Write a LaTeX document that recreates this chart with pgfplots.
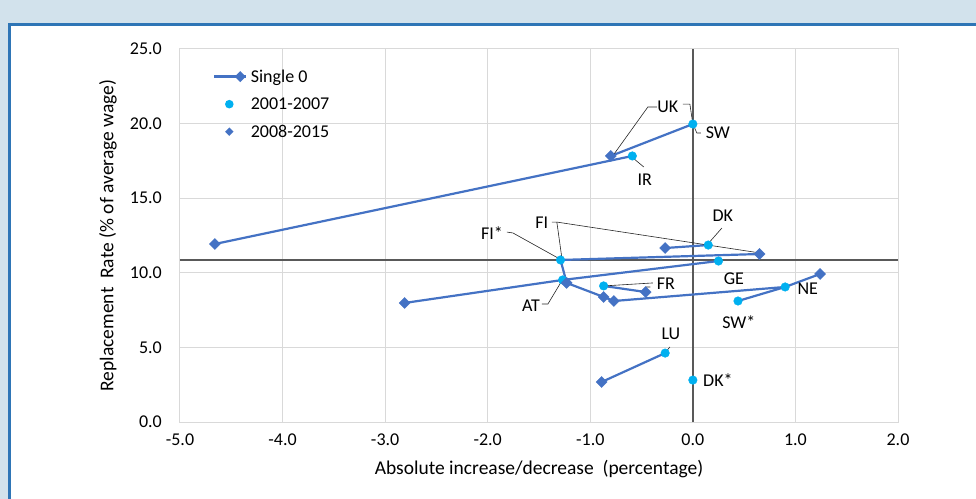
\documentclass[border=0pt]{standalone}
\usepackage{fontspec}
\setmainfont{Carlito}
\usepackage{pgfplots}
\pgfplotsset{compat=1.18}
\definecolor{lineblue}{RGB}{68,114,196}
\definecolor{circblue}{RGB}{0,176,240}
\definecolor{gridgray}{RGB}{217,217,217}
\definecolor{zerogray}{RGB}{89,89,89}
\definecolor{bgblue}{RGB}{210,226,236}
\definecolor{frameblue}{RGB}{46,117,182}
\newcommand{\lbl}{\fontsize{18bp}{21bp}\selectfont}
\newcommand{\ttl}{\fontsize{19.5bp}{23bp}\selectfont}
\begin{document}
\begin{tikzpicture}
\path[use as bounding box] (-180bp,-77bp) rectangle (796bp,422bp);
\fill[bgblue] (-180bp,-77bp) rectangle (796bp,422bp);
\filldraw[fill=white, draw=frameblue, line width=3bp] (-170.5bp,-90bp) rectangle (810bp,397.5bp);
\begin{axis}[
  at={(0,0)}, anchor=south west, scale only axis,
  width=718bp, height=373bp,
  xmin=-5, xmax=2, ymin=0, ymax=25,
  clip=false,
  xtick={-5,-4,-3,-2,-1,0,1,2},
  xticklabels={-5.0,-4.0,-3.0,-2.0,-1.0,0.0,1.0,2.0},
  ytick={0,5,10,15,20,25},
  yticklabels={0.0,5.0,10.0,15.0,20.0,25.0},
  grid=major, grid style={gridgray, line width=1bp},
  axis line style={gridgray, line width=1bp},
  major tick length=0pt,
  tick label style={font=\lbl, inner sep=0pt},
  xticklabel style={anchor=center, yshift=-18bp},
  yticklabel style={anchor=east, xshift=-18bp},
  xlabel={Absolute increase/decrease\ \ (percentage)},
  ylabel={Replacement\ \ Rate (\% of average wage)},
  every axis x label/.style={at={(axis description cs:0.5,-0.126)}, anchor=center, font=\ttl},
  every axis y label/.style={at={(axis description cs:-0.1003,0.5)}, anchor=center, rotate=90, font=\ttl},
  legend style={draw=none, fill=none, at={(axis description cs:0.046,0.952)}, anchor=north west,
    font=\lbl, row sep=9bp, inner sep=0pt, nodes={inner sep=2.5bp}},
  legend cell align=left,
]
% legend entry for the line series
\addlegendimage{legend image code/.code={
  \draw[lineblue, line width=2.2bp] (0bp,0bp) -- (32bp,0bp);
  \fill[lineblue, draw=none, rotate around={45:(26bp,0bp)}] (22.1bp,-3.9bp) rectangle (29.9bp,3.9bp);
  \path[draw=none, fill=none] (0bp,-4bp) rectangle (34bp,4bp);}}
\addlegendentry{Single 0}

% zero reference lines
\addplot[zerogray, line width=2.5bp, forget plot] coordinates {(0,0) (0,25)};
\addplot[zerogray, line width=2.5bp, forget plot] coordinates {(-5,10.86) (2,10.86)};

% connecting line (Single 0)
\addplot[lineblue, line width=2.2bp, forget plot] coordinates {(-4.66,11.93) (-0.59,17.83)};
\addplot[lineblue, line width=2.2bp, forget plot] coordinates {(-0.80,17.83) (0.00,19.97)};
\addplot[lineblue, line width=2.2bp, forget plot] coordinates {(-0.27,11.66) (0.15,11.86)};
\addplot[lineblue, line width=2.2bp, forget plot] coordinates {(0.65,11.26) (-1.29,10.86) (-1.23,9.32) (-0.87,8.38) (-0.77,8.11) (0.90,9.05) (1.24,9.92)};
\addplot[lineblue, line width=2.2bp, forget plot] coordinates {(0.90,9.05) (0.44,8.11)};
\addplot[lineblue, line width=2.2bp, forget plot] coordinates {(-0.87,9.12) (-0.46,8.71)};
\addplot[lineblue, line width=2.2bp, forget plot] coordinates {(-2.81,7.98) (-1.27,9.52) (0.25,10.79)};
\addplot[lineblue, line width=2.2bp, forget plot] coordinates {(-0.89,2.68) (-0.27,4.62)};

% leader lines
\addplot[black!85, line width=0.6bp, forget plot] coordinates {(-0.351,21.11) (-0.439,21.11) (-0.789,17.76)};
\addplot[black!85, line width=0.6bp, forget plot] coordinates {(-0.097,21.31) (-0.029,21.31) (0,19.97)};
\addplot[black!85, line width=0.6bp, forget plot] coordinates {(0,19.97) (0.039,19.37) (0.078,19.37)};
\addplot[black!85, line width=0.6bp, forget plot] coordinates {(-0.478,17.09) (-0.595,17.76)};
\addplot[black!85, line width=0.6bp, forget plot] coordinates {(0.283,13.0) (0.146,11.93)};
\addplot[black!85, line width=0.6bp, forget plot] coordinates {(-1.374,13.40) (-1.326,13.40) (-1.277,10.99)};
\addplot[black!85, line width=0.6bp, forget plot] coordinates {(-1.326,13.40) (0.653,11.33)};
\addplot[black!85, line width=0.6bp, forget plot] coordinates {(-1.813,12.73) (-1.754,12.67) (-1.296,10.92)};
\addplot[black!85, line width=0.6bp, forget plot] coordinates {(-1.472,7.91) (-1.413,7.91) (-1.267,9.58)};
\addplot[black!85, line width=0.6bp, forget plot] coordinates {(-0.39,9.32) (-0.867,9.12)};
\addplot[black!85, line width=0.6bp, forget plot] coordinates {(-0.46,8.71) (-0.455,9.05) (-0.415,9.05)};
\addplot[black!85, line width=0.6bp, forget plot] coordinates {(-0.224,5.03) (-0.273,4.62)};

% 2001-2007
\addplot[only marks, mark=*, mark size=4.3bp, mark options={draw=circblue, fill=circblue},
  legend image code/.code={
   \fill[circblue, draw=none] (15bp,0bp) circle (4.3bp);
   \path[draw=none, fill=none] (0bp,-4bp) rectangle (34bp,4bp);}] coordinates {
(-0.59,17.83) (0.00,19.97) (0.15,11.86) (-1.29,10.86) (0.25,10.79) (-1.27,9.52)
(-0.87,9.12) (0.90,9.05) (0.44,8.11) (-0.27,4.62) (0.00,2.81)};
\addlegendentry{2001-2007}

% 2008-2015
\addplot[only marks, mark=square*, mark size=3.9bp, mark options={rotate=45, draw=lineblue, fill=lineblue},
  legend image code/.code={
   \fill[lineblue, draw=none, rotate around={45:(15bp,0bp)}] (12bp,-3bp) rectangle (18bp,3bp);
   \path[draw=none, fill=none] (0bp,-4bp) rectangle (34bp,4bp);}] coordinates {
(-4.66,11.93) (-0.80,17.83) (-0.27,11.66) (0.65,11.26) (-1.23,9.32) (-2.81,7.98)
(-0.87,8.38) (-0.77,8.11) (-0.46,8.71) (1.24,9.92) (-0.89,2.68)};
\addlegendentry{2008-2015}

% data labels
\node[font=\lbl] at (axis cs:-0.244,21.11) {UK};
\node[font=\lbl] at (axis cs:0.244,19.37) {SW};
\node[font=\lbl] at (axis cs:-0.468,16.22) {IR};
\node[font=\lbl] at (axis cs:0.292,13.81) {DK};
\node[font=\lbl] at (axis cs:-1.472,13.34) {FI};
\node[font=\lbl] at (axis cs:-1.959,12.67) {FI*};
\node[font=\lbl] at (axis cs:-1.579,7.77) {AT};
\node[font=\lbl] at (axis cs:-0.263,9.25) {FR};
\node[font=\lbl] at (axis cs:0.40,9.58) {GE};
\node[font=\lbl] at (axis cs:1.12,8.91) {NE};
\node[font=\lbl] at (axis cs:0.448,6.70) {SW*};
\node[font=\lbl] at (axis cs:-0.214,5.90) {LU};
\node[font=\lbl] at (axis cs:0.244,2.82) {DK*};
\end{axis}
\end{tikzpicture}
\end{document}
